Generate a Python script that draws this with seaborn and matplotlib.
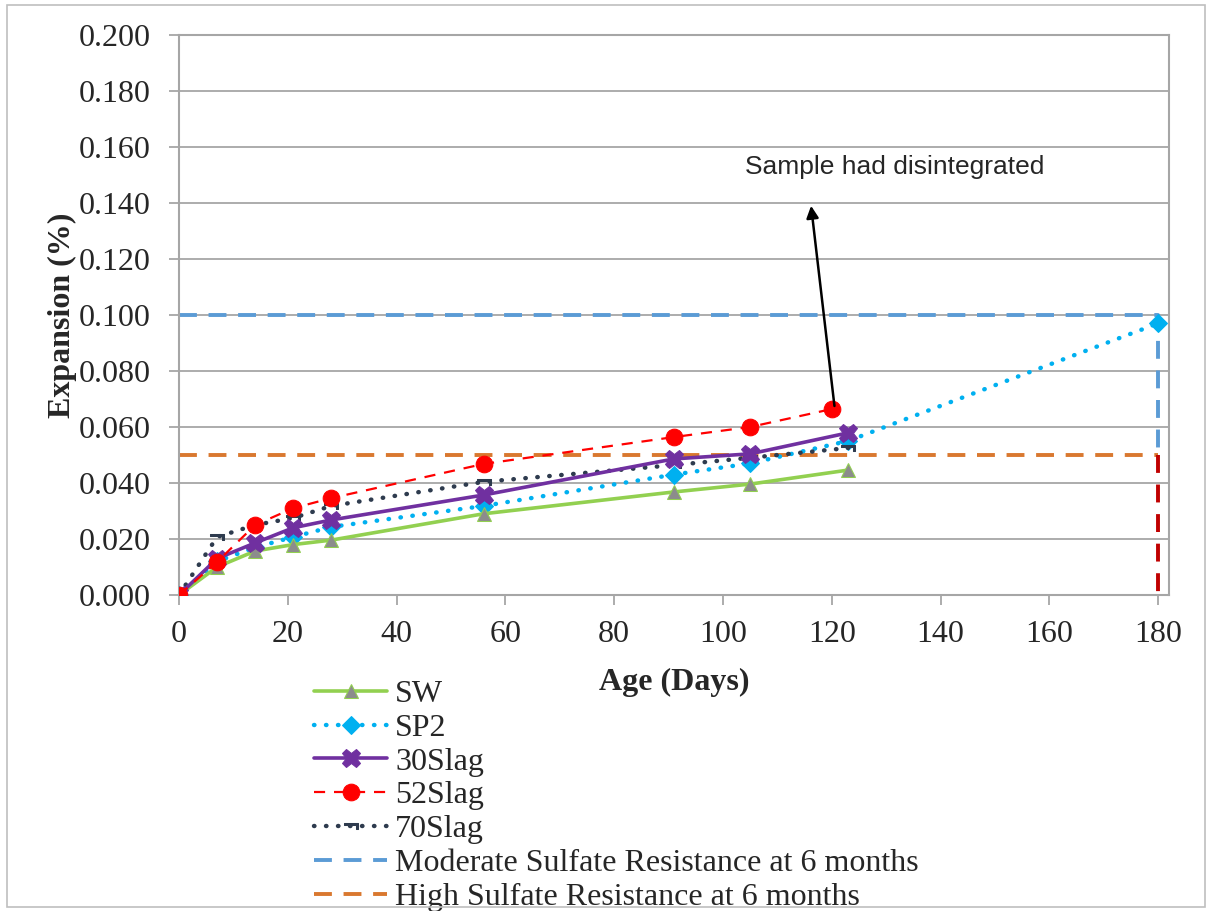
import pandas as pd
import matplotlib.pyplot as plt
import seaborn as sns
from matplotlib.patches import Rectangle

# data
age = [0, 7, 14, 21, 28, 56, 91, 105, 123]
age_52 = [0, 7, 14, 21, 28, 56, 91, 105, 120]
age_sp2 = [0, 7, 14, 21, 28, 56, 91, 105, 123, 180]

sw = [0.000, 0.010, 0.0157, 0.018, 0.0196, 0.029, 0.0368, 0.0396, 0.0446]
sp2 = [0.000, 0.012, 0.017, 0.0207, 0.0243, 0.0318, 0.043, 0.047, 0.055, 0.097]
slag30 = [0.000, 0.013, 0.0186, 0.024, 0.0268, 0.0357, 0.0486, 0.0504, 0.0579]
slag52 = [0.000, 0.0118, 0.025, 0.031, 0.0346, 0.0468, 0.0564, 0.060, 0.0664]
slag70 = [0.000, 0.0207, 0.0250, 0.0275, 0.0318, 0.0404, 0.0464, 0.049, 0.0525]

moderate_x = [0, 180, 180]
moderate_y = [0.100, 0.100, 0.050]
high_x = [0, 180]
high_y = [0.050, 0.050]
drop_x = [180, 180]
drop_y = [0.050, 0.000]

sns.set_style("white")
plt.rcParams['font.family'] = ['Liberation Serif', 'DejaVu Serif']

fig = plt.figure(figsize=(12.12, 9.11), dpi=100)
ax = fig.add_axes([0.1477, 0.3469, 0.8168, 0.6147])

# figure border
fig.patches.append(Rectangle((0.006, 0.004), 0.988, 0.99, transform=fig.transFigure,
                             fill=False, edgecolor='#BFBFBF', linewidth=1.2))

df_sw = pd.DataFrame({'age': age, 'exp': sw})
df_sp2 = pd.DataFrame({'age': age_sp2, 'exp': sp2})
df_30 = pd.DataFrame({'age': age, 'exp': slag30})
df_52 = pd.DataFrame({'age': age_52, 'exp': slag52})
df_70 = pd.DataFrame({'age': age, 'exp': slag70})

dots = (0, (0.1, 2.6))
dashes = (0, (4.6, 3.0))

sns.lineplot(data=df_sw, x='age', y='exp', ax=ax, color='#92D050', linewidth=2.6,
             marker='^', markersize=10, markerfacecolor='#8C8C8C', markeredgecolor='#92D050',
             label='SW', zorder=4)
sns.lineplot(data=df_sp2, x='age', y='exp', ax=ax, color='#00B0F0', linewidth=3.2,
             linestyle=dots, dash_capstyle='round', marker='D', markersize=9,
             markerfacecolor='#00B0F0', markeredgecolor='#00B0F0', label='SP2', zorder=3)
sns.lineplot(data=df_30, x='age', y='exp', ax=ax, color='#7030A0', linewidth=2.6,
             marker='X', markersize=13, markerfacecolor='#7030A0', markeredgecolor='#7030A0',
             label='30Slag', zorder=5)
sns.lineplot(data=df_52, x='age', y='exp', ax=ax, color='#FF0000', linewidth=1.6,
             linestyle=(0, (5, 4)), marker='o', markersize=12, markerfacecolor='#FF0000',
             markeredgecolor='#FF0000', label='52Slag', zorder=6)
sns.lineplot(data=df_70, x='age', y='exp', ax=ax, color='#2E3B4E', linewidth=3.2,
             linestyle=dots, dash_capstyle='round', marker=r'$\neg$', markersize=10,
             markerfacecolor='#2E3B4E', markeredgecolor='#2E3B4E', label='70Slag', zorder=4)

ax.plot(moderate_x, moderate_y, color='#5B9BD5', linewidth=2.8, linestyle=dashes,
        label='Moderate Sulfate Resistance at 6 months', zorder=2)
ax.plot(high_x, high_y, color='#D9782F', linewidth=2.8, linestyle=dashes,
        label='High Sulfate Resistance at 6 months', zorder=2)
ax.plot(drop_x, drop_y, color='#C00000', linewidth=2.8, linestyle=dashes, zorder=2)

# arrow from the last 52Slag point up to the note
ax.annotate('', xy=(116.2, 0.139), xytext=(120.5, 0.0675),
            arrowprops=dict(arrowstyle='-|>', color='black', lw=1.8, mutation_scale=18,
                            shrinkA=0, shrinkB=0), zorder=7)
ax.text(131.5, 0.153, 'Sample had disintegrated', fontsize=19,
        family=['Liberation Sans', 'DejaVu Sans'], ha='center', va='center')

ax.set_xlim(0, 182)
ax.set_ylim(0, 0.2)
ax.set_xticks(range(0, 181, 20))
ax.set_yticks([i * 0.02 for i in range(11)])
ax.set_yticklabels([f'{i * 0.02:.3f}' for i in range(11)])
ax.yaxis.grid(True, color='#A6A6A6', linewidth=1.3)
ax.set_axisbelow(True)
for s in ax.spines.values():
    s.set_color('#A6A6A6')
    s.set_linewidth(1.5)
ax.tick_params(axis='both', labelsize=23, direction='out', length=7, width=1.3,
               color='#A6A6A6', left=True, bottom=True)
ax.tick_params(axis='x', pad=11)
ax.tick_params(axis='y', pad=13.5)

ax.set_xlabel('Age (Days)', fontsize=23, fontweight='bold')
ax.set_ylabel('Expansion (%)', fontsize=23, fontweight='bold')
ax.xaxis.set_label_coords(0.500, -0.131)
ax.yaxis.set_label_coords(-0.103, 0.5)

ax.legend(loc='upper left', bbox_to_anchor=(0.259, 0.254), bbox_transform=fig.transFigure,
          frameon=False, fontsize=23, handlelength=2.3, handletextpad=0.25,
          labelspacing=0.14, borderpad=0, borderaxespad=0)

fig.savefig('out.png', dpi=100)
